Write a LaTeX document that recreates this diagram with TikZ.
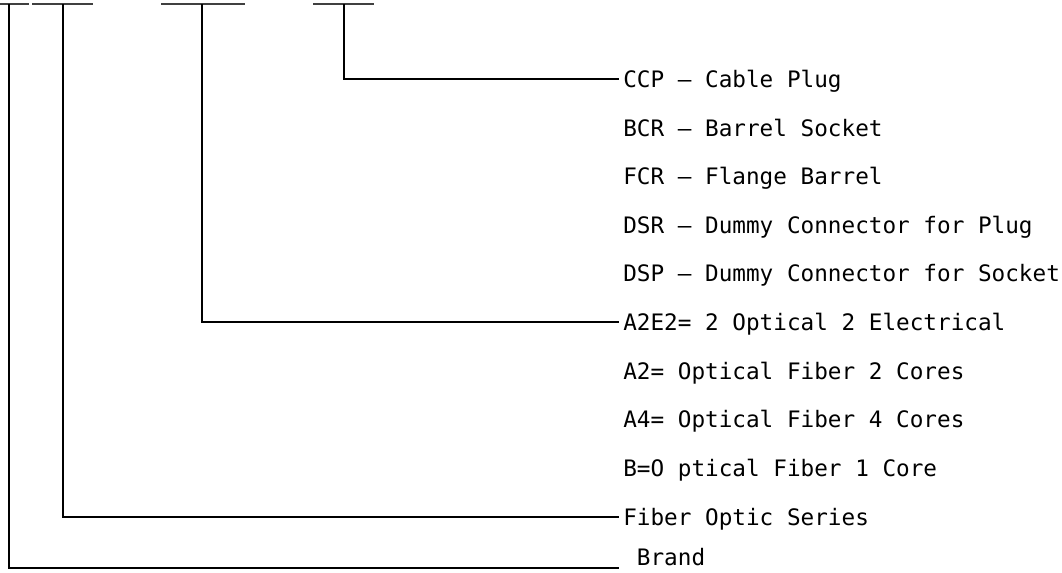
\documentclass[tikz,border=0pt]{standalone}
\usepackage{fontspec}
\newfontfamily\labfont{DejaVu Sans Mono}
\begin{document}
\begin{tikzpicture}[x=0.75pt,y=-0.75pt,
  lab/.style={anchor=west,inner xsep=3pt,inner ysep=0pt,text height=12.4pt,text depth=0pt,font=\labfont\fontsize{17}{20}\selectfont},
  bar/.style={line width=1.5pt,draw=black!75},
  conn/.style={line width=1.1pt,draw=black}]
\useasboundingbox (0,0) rectangle (1062,572);
% top code bars
\draw[bar] (0,4) -- (29,4);
\draw[bar] (32,4) -- (93,4);
\draw[bar] (161,4) -- (245,4);
\draw[bar] (313,4) -- (374,4);
\coordinate (t1) at (9,4);
\coordinate (t2) at (63,4);
\coordinate (t3) at (202,4);
\coordinate (t4) at (344,4);
% labels
\node[lab] (ccp)  at (619,79)  {CCP — Cable Plug};
\node[lab] (bcr)  at (619,128) {BCR — Barrel Socket};
\node[lab] (fcr)  at (619,176) {FCR — Flange Barrel};
\node[lab] (dsr)  at (619,225) {DSR — Dummy Connector for Plug};
\node[lab] (dsp)  at (619,273) {DSP — Dummy Connector for Socket};
\node[lab] (a2e2) at (619,322) {A2E2= 2 Optical 2 Electrical};
\node[lab] (a2)   at (619,371) {A2= Optical Fiber 2 Cores};
\node[lab] (a4)   at (619,419) {A4= Optical Fiber 4 Cores};
\node[lab] (b)    at (619,468) {B=O ptical Fiber 1 Core};
\node[lab] (fos)  at (619,517) {Fiber Optic Series};
\node[lab] (brand) at (619,557) {\ Brand};
% connectors
\draw[conn] (t4) |- (ccp.west);
\draw[conn] (t3) |- (a2e2.west);
\draw[conn] (t2) |- (fos.west);
\coordinate (k1) at (9,568);
\draw[conn] (t1) -- (k1) -- (k1 -| brand.west);
\end{tikzpicture}
\end{document}
